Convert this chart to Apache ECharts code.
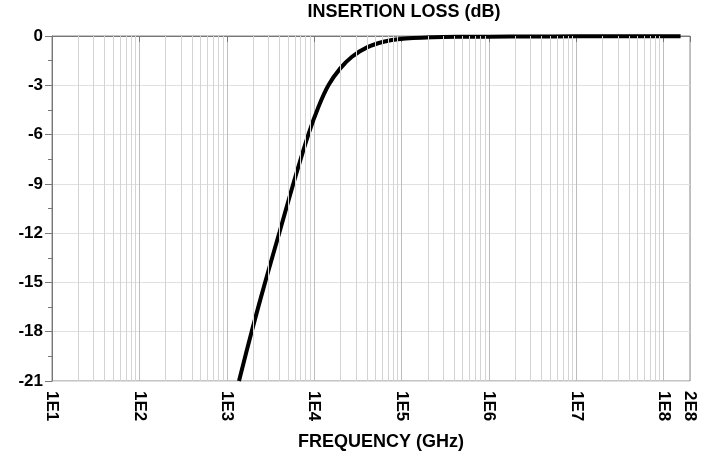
<!DOCTYPE html>
<html>
<head>
<meta charset="utf-8">
<script src="https://cdn.jsdelivr.net/npm/echarts@6/dist/echarts.min.js"></script>
<style>
  html, body { margin: 0; padding: 0; background: #fff; }
  #chart { width: 715px; height: 459px; }
</style>
</head>
<body>
<div id="chart"></div>
<script>
// 频率 (GHz) 与插入损耗 (dB)
var freq = [1380, 1936, 2754, 4018, 5808, 8630, 11220, 14620, 19910, 27100, 40270, 62370, 96830, 229100, 500000, 1000000, 3000000, 10000000, 30000000, 100000000, 156000000];
var loss = [-21, -17.95, -14.97, -11.93, -8.95, -5.96, -4.30, -2.98, -1.97, -1.26, -0.69, -0.35, -0.18, -0.08, -0.05, -0.04, -0.03, -0.02, -0.02, -0.01, -0.01];
var yTicks = { min: -21, max: 0, step: 3 };
var xRange = { min: 10, max: 200000000 };

var font = 'Liberation Sans, Arial, sans-serif';

// 对数坐标的次网格线 2..9 x 10^k
var minorLines = [];
for (var k = 1; k <= 7; k++) {
  for (var m = 2; m <= 9; m++) {
    minorLines.push({ xAxis: m * Math.pow(10, k) });
  }
}

function fmtE (v) {
  var e = Math.floor(Math.log10(v) + 1e-9);
  var m = Math.round(v / Math.pow(10, e));
  return m + 'E' + e;
}

var chart = echarts.init(document.getElementById('chart'));
var option = {
  animation: false,
  backgroundColor: '#fff',
  title: [{
    text: 'INSERTION LOSS (dB)',
    left: 404,
    top: 3,
    padding: 0,
    textAlign: 'center',
    textStyle: { fontFamily: font, fontWeight: 'bold', fontSize: 18, color: '#000' }
  }, {
    text: 'FREQUENCY (GHz)',
    left: 381,
    top: 433,
    padding: 0,
    textAlign: 'center',
    textStyle: { fontFamily: font, fontWeight: 'bold', fontSize: 18, color: '#000' }
  }],
  grid: {
    left: 52,
    right: 25,
    top: 36,
    bottom: 78,
    show: true,
    borderColor: '#888',
    borderWidth: 1
  },
  xAxis: {
    type: 'log',
    logBase: 10,
    min: xRange.min,
    max: xRange.max,
    axisLine: { lineStyle: { color: '#777', width: 1 } },
    axisTick: { show: true, length: 6, lineStyle: { color: '#777' } },
    axisLabel: {
      rotate: -90,
      margin: 10,
      showMaxLabel: true,
      showMinLabel: true,
      color: '#000',
      fontFamily: font,
      fontWeight: 'bold',
      fontSize: 17,
      formatter: fmtE
    },
    splitLine: { show: true, lineStyle: { color: '#bdbdbd', width: 1 } }
  },
  yAxis: {
    type: 'value',
    min: yTicks.min,
    max: yTicks.max,
    interval: yTicks.step,
    axisLine: { show: true, lineStyle: { color: '#777', width: 1 } },
    axisTick: { show: true, length: 7, lineStyle: { color: '#777' } },
    minorTick: { show: true, splitNumber: 2, length: 4, lineStyle: { color: '#777' } },
    axisLabel: {
      margin: 9,
      color: '#000',
      fontFamily: font,
      fontWeight: 'bold',
      fontSize: 17
    },
    splitLine: { show: true, lineStyle: { color: '#e0e0e0', width: 1 } }
  },
  series: [{
    type: 'line',
    data: [],
    z: 1,
    silent: true,
    markLine: {
      silent: true,
      symbol: 'none',
      animation: false,
      label: { show: false },
      lineStyle: { color: '#d4d4d4', width: 1, type: 'solid' },
      emphasis: { disabled: true },
      data: minorLines
    }
  }, {
    type: 'line',
    z: 3,
    data: freq.map(function (f, i) { return [f, loss[i]]; }),
    showSymbol: false,
    smooth: 0.3,
    clip: true,
    lineStyle: { color: '#000', width: 4 }
  }]
};
chart.setOption(option);
window.addEventListener('resize', function () { chart.resize(); });
</script>
</body>
</html>
